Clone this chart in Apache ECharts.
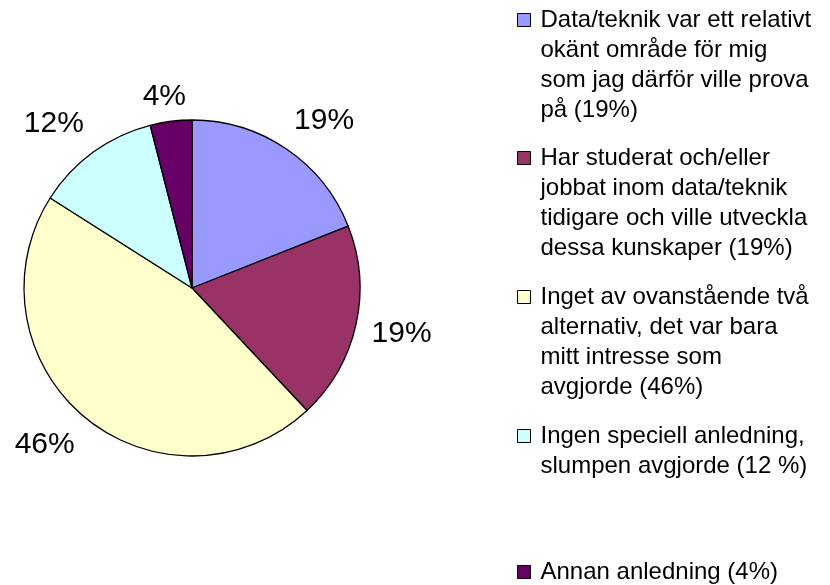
<!DOCTYPE html>
<html>
<head>
<meta charset="utf-8">
<script src="https://cdn.jsdelivr.net/npm/echarts@6/dist/echarts.min.js"></script>
<style>
html, body { margin: 0; background: #fff; }
#main { width: 830px; height: 585px; }
</style>
</head>
<body>
<div id="main"></div>
<script>
// svarsalternativ (legendtexten bryts som i originalet)
var categories = [
	'Data/teknik var ett relativt\nokänt område för mig\nsom jag därför ville prova\npå (19%)',
	'Har studerat och/eller\njobbat inom data/teknik\ntidigare och ville utveckla\ndessa kunskaper (19%)',
	'Inget av ovanstående två\nalternativ, det var bara\nmitt intresse som\navgjorde (46%)',
	'Ingen speciell anledning,\nslumpen avgjorde (12 %)',
	'Annan anledning (4%)'
];
var values = [19, 19, 46, 12, 4];

var colors = ['#9999FF', '#993366', '#FFFFCC', '#CCFFFF', '#660066'];
var font = 'Liberation Sans, Arial, sans-serif';

var cx = 192, cy = 288, R = 168;
var total = 0;
for (var k = 0; k < values.length; k++) total += values[k];

// procentetiketter ungefär som Excel lägger dem, utanför kanten
function pieLabel(params) {
	var i = params.dataIndex;
	var before = 0;
	for (var j = 0; j < i; j++) before += values[j];
	var mid = (before + values[i] / 2) / total * Math.PI * 2;
	var s = Math.sin(mid), c = Math.cos(mid);
	var d = R + 16;
	var kx = Math.max(-1, Math.min(1, 1.7 * s));
	var ky = Math.max(-1, Math.min(1, 1.7 * c));
	if (ky > 0.99 && Math.abs(s) < 0.2) ky = 0.6; // smal etikett rakt ovanför
	return {
		x: cx + d * s + kx * params.labelRect.width / 2,
		y: cy - d * c - ky * params.labelRect.height / 2,
		align: 'center',
		verticalAlign: 'middle'
	};
}

// en legend per post; tomma rader överst gör att rutan hamnar vid första raden
var lineH = 30;
var firstLine = [20, 158, 297, 436, 572];
var legends = [];
for (var i = 0; i < categories.length; i++) {
	var n = categories[i].split('\n').length;
	legends.push({
		orient: 'vertical',
		left: 517,
		top: firstLine[i] - (n - 1) * lineH - lineH / 2,
		padding: 0,
		itemWidth: 13,
		itemHeight: 13,
		icon: 'rect',
		selectedMode: false,
		itemStyle: { borderColor: '#000', borderWidth: 1 },
		data: [categories[i]],
		formatter: function(name) {
			var lines = name.split('\n').length;
			return new Array(lines).join('\n') + name;
		},
		textStyle: {
			fontFamily: font,
			fontSize: 24,
			lineHeight: lineH,
			color: '#000',
			padding: [0, 0, 0, 5]
		}
	});
}

var myChart = echarts.init(document.getElementById('main'));

var data = [];
for (var m = 0; m < categories.length; m++) {
	data.push({ name: categories[m], value: values[m], itemStyle: { color: colors[m] } });
}

var option = {
	backgroundColor: '#fff',
	animation: false,
	legend: legends,
	series: [{
		type: 'pie',
		center: [cx, cy],
		radius: R,
		startAngle: 90,
		clockwise: true,
		avoidLabelOverlap: false,
		silent: true,
		itemStyle: { borderColor: '#000', borderWidth: 1.3 },
		label: {
			show: true,
			position: 'outside',
			fontFamily: font,
			fontSize: 30,
			color: '#000',
			formatter: function(p) {
				return Math.round(p.percent) + '%';
			}
		},
		labelLine: { show: false },
		labelLayout: pieLabel,
		data: data
	}]
};

myChart.setOption(option);
</script>
</body>
</html>
